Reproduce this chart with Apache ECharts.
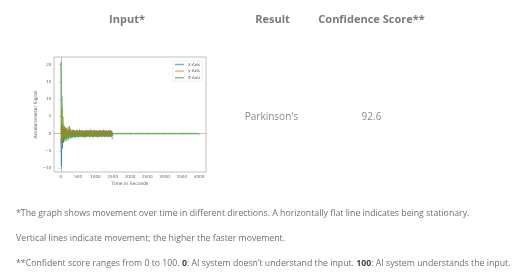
<!DOCTYPE html>
<html>
<head>
<meta charset="utf-8">
<script src="https://cdn.jsdelivr.net/npm/echarts@6/dist/echarts.min.js"></script>
<style>
html,body{margin:0;padding:0;background:#ffffff;}
#c{width:521px;height:279px;}
</style>
</head>
<body>
<div id="c"></div>
<script>
// ---- data ----
const headers = ['Input*', 'Result', 'Confidence Score**'];
const resultText = "Parkinson's";
const confidenceText = '92.6';
const footnote1 = '*The graph shows movement over time in different directions. A horizontally flat line indicates being stationary.';
const footnote2 = 'Vertical lines indicate movement; the higher the faster movement.';
const seriesNames = ['X-Axis', 'y-Axis', 'Z-Axis'];
const xTicks = [0, 500, 1000, 1500, 2000, 2500, 3000, 3500, 4000];
const yTicks = [-10, -5, 0, 5, 10, 15, 20];
const xName = 'Time in Seconds';
const yName = 'Accelerometer Signal';

const times = [0,15,30,45,60,75,90,105,120,135,
 150,165,180,195,210,225,240,255,270,285,
 300,315,330,345,360,375,390,405,420,435,
 450,465,480,495,510,525,540,555,570,585,
 600,615,630,645,660,675,690,705,720,735,
 750,765,780,795,810,825,840,855,870,885,
 900,915,930,945,960,975,990,1005,1020,1035,
 1050,1065,1080,1095,1110,1125,1140,1155,1170,1185,
 1200,1215,1230,1245,1260,1275,1290,1305,1320,1335,
 1350,1365,1380,1395,1410,1425,1440,1455,1470,1485,
 1500];
const xAxisVals = [-1.5,-9.5,3.0,-4.2,1.8,-2.6,1.2,-1.8,1.5,-1.2,
 0.9,-1.6,1.3,-0.8,1.0,-1.4,2.2,-0.6,1.1,-1.0,
 0.8,-1.2,0.6,-0.9,1.0,-0.7,0.9,-1.1,0.5,-0.8,
 1.1,-0.6,0.8,-1.0,0.7,-0.9,1.2,-0.5,0.6,-1.0,
 0.9,-0.7,1.0,-0.8,0.5,-1.1,0.8,-0.6,1.1,-0.9,
 0.7,-0.8,1.0,-0.5,0.9,-1.0,0.6,-0.7,1.2,-0.8,
 0.8,-0.9,0.5,-1.0,1.1,-0.6,0.7,-0.8,1.0,-0.9,
 0.6,-1.1,0.9,-0.5,0.8,-0.9,1.0,-0.7,0.6,-1.0,
 0.9,-0.6,1.1,-0.8,0.7,-0.9,0.8,-0.5,1.0,-0.8,
 0.6,-1.0,0.9,-0.7,0.8,-0.9,1.0,-0.8,0.7,-1.5,
 -1.3];
const yAxisVals = [2.0,-3.5,7.5,-2.0,2.5,-1.2,1.9,-1.5,2.0,-0.9,
 1.6,-1.1,1.8,-0.7,1.3,-1.0,1.0,-0.8,1.5,-0.6,
 0.9,-0.9,1.2,-0.5,0.8,-0.8,1.0,-0.6,0.7,-0.9,
 0.9,-0.5,1.1,-0.7,0.6,-0.8,0.8,-0.6,1.0,-0.5,
 0.7,-0.8,0.9,-0.6,0.8,-0.7,0.6,-0.9,1.0,-0.5,
 0.8,-0.6,0.7,-0.8,0.9,-0.5,1.0,-0.7,0.6,-0.8,
 0.9,-0.6,0.8,-0.7,1.0,-0.5,0.7,-0.8,0.6,-0.6,
 0.9,-0.7,0.8,-0.5,1.0,-0.8,0.6,-0.6,0.9,-0.7,
 0.7,-0.5,0.8,-0.8,1.0,-0.6,0.6,-0.7,0.9,-0.5,
 0.8,-0.8,0.7,-0.6,1.0,-0.7,0.6,-0.5,0.8,-0.6,
 0.2];
const zAxisVals = [20.7,-2.8,11.0,-2.2,5.0,-2.4,2.5,-2.0,1.8,-2.3,
 1.4,-1.6,1.2,-2.0,1.0,-1.3,0.9,-1.5,1.1,-1.0,
 0.8,-1.2,0.7,-0.9,1.0,-1.1,0.6,-0.8,0.9,-1.0,
 0.7,-0.9,0.8,-1.1,0.6,-0.7,0.9,-1.0,0.5,-0.8,
 0.8,-0.9,0.7,-1.0,0.6,-0.8,0.9,-0.7,0.5,-1.0,
 0.8,-0.6,0.7,-0.9,0.6,-0.8,0.9,-1.0,0.5,-0.7,
 0.7,-0.9,0.8,-0.6,0.6,-1.0,0.9,-0.8,0.5,-0.7,
 0.8,-0.9,0.6,-0.8,0.7,-1.0,0.9,-0.6,0.5,-0.8,
 0.7,-0.9,0.8,-0.7,0.6,-1.0,0.8,-0.6,0.7,-0.9,
 0.5,-0.8,0.9,-0.7,0.6,-0.9,0.7,-0.8,0.5,-0.6,
 0.0];
const zTailTimes = [4000];
const zTailVals = [0.0];

// ---- build ----
function pairs(ts, vs) { return ts.map((t, i) => [t, vs[i]]); }
const zData = pairs(times, zAxisVals).concat(pairs(zTailTimes, zTailVals));

const FONT = '"Open Sans", "Noto Sans", sans-serif';
const chart = echarts.init(document.getElementById('c'), null, {renderer: 'canvas', width: 521, height: 279});

function txt(x, y, text, size, weight, color, align) {
  return {type: 'text', x: x, y: y, silent: true,
    style: {text: text, fontSize: size, fontWeight: weight, fontFamily: FONT, fill: color,
      align: align || 'center', verticalAlign: 'middle'}};
}

const tickLabelStyle = {fontSize: 4.2, color: '#666', fontFamily: 'DejaVu Sans, sans-serif'};

chart.setOption({
  animation: false,
  backgroundColor: '#ffffff',
  grid: {left: 54, top: 57, width: 152, height: 115, show: true, borderColor: '#b0b0b0', borderWidth: 0.8, backgroundColor: '#fff'},
  legend: {
    data: seriesNames, orient: 'vertical', left: 173, top: 61,
    itemWidth: 9, itemHeight: 1.5, itemGap: 2.6, icon: 'rect',
    itemStyle: {opacity: 0.6},
    padding: [1.5, 2, 1.5, 2], borderColor: '#ddd', borderWidth: 0.5, borderRadius: 1,
    textStyle: {fontSize: 4, color: '#555', fontFamily: 'DejaVu Sans, sans-serif', padding: [0, 0, 0, -1]}
  },
  xAxis: {
    type: 'value', min: -200, max: 4200,
    name: xName, nameLocation: 'middle', nameGap: 9,
    nameTextStyle: {fontSize: 4.5, color: '#555', fontFamily: 'DejaVu Sans, sans-serif'},
    axisLine: {show: true, lineStyle: {color: '#b0b0b0', width: 0.8}},
    axisTick: {show: true, length: 1.5, customValues: xTicks, lineStyle: {color: '#999', width: 0.6}},
    axisLabel: {show: true, margin: 2.5, customValues: xTicks, ...tickLabelStyle,
      formatter: v => String(v)},
    splitLine: {show: false}
  },
  yAxis: {
    type: 'value', min: -11.1, max: 22.2,
    name: yName, nameLocation: 'middle', nameGap: 13, nameRotate: 90,
    nameTextStyle: {fontSize: 4.5, color: '#555', fontFamily: 'DejaVu Sans, sans-serif'},
    axisLine: {show: true, lineStyle: {color: '#b0b0b0', width: 0.8}},
    axisTick: {show: true, length: 1.5, customValues: yTicks, lineStyle: {color: '#999', width: 0.6}},
    axisLabel: {show: true, margin: 2.5, customValues: yTicks, ...tickLabelStyle,
      formatter: v => (v < 0 ? '\u2212' + Math.abs(v) : String(v))},
    splitLine: {show: false}
  },
  series: [
    {name: seriesNames[0], type: 'line', data: pairs(times, xAxisVals), showSymbol: false, symbol: 'none',
      color: '#1f77b4', lineStyle: {width: 1, opacity: 0.7}},
    {name: seriesNames[1], type: 'line', data: pairs(times, yAxisVals), showSymbol: false, symbol: 'none',
      color: '#ff7f0e', lineStyle: {width: 1, opacity: 0.7}},
    {name: seriesNames[2], type: 'line', data: zData, showSymbol: false, symbol: 'none',
      color: '#2ca02c', lineStyle: {width: 1.7, opacity: 0.5}}
  ],
  graphic: [
    txt(127, 19.5, headers[0], 11, 'bold', '#7a7a7a'),
    txt(272.5, 19.5, headers[1], 11, 'bold', '#7a7a7a'),
    txt(371.5, 19.5, headers[2], 11, 'bold', '#7a7a7a'),
    txt(271.5, 117.5, resultText, 10, 'normal', '#8a8a8a'),
    txt(371.5, 117.5, confidenceText, 10, 'normal', '#8a8a8a'),
    txt(16, 213, footnote1, 8.75, 'normal', '#6f6f6f', 'left'),
    txt(16, 238, footnote2, 8.75, 'normal', '#6f6f6f', 'left'),
    {type: 'text', x: 16, y: 263, silent: true,
      style: {
        text: '**Confident score ranges from 0 to 100. {b|0}: AI system doesn\u2019t understand the input. {b|100}: AI system understands the input.',
        fontSize: 8.75, fontFamily: FONT, fill: '#6f6f6f', align: 'left', verticalAlign: 'middle',
        rich: {b: {fontSize: 8.75, fontWeight: 'bold', fontFamily: FONT, fill: '#444'}}
      }}
  ]
});
</script>
</body>
</html>
